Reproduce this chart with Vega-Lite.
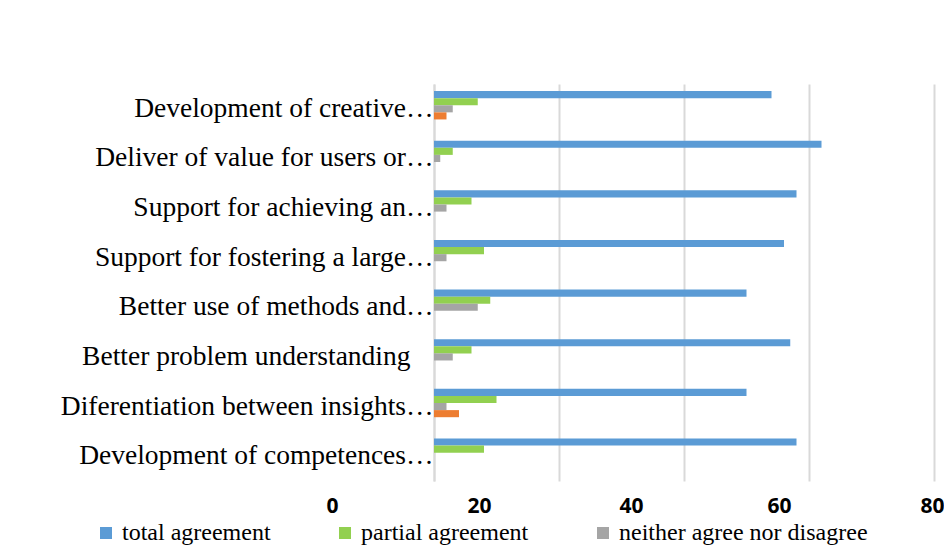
{
  "$schema": "https://vega.github.io/schema/vega-lite/v6.json",
  "width": 500,
  "height": 397,
  "autosize": "none",
  "padding": {"left": 434, "top": 84, "right": 10, "bottom": 68},
  "background": "white",
  "config": {"view": {"stroke": null}},
  "data": {
    "values": [
      {"item": "Development of creative…", "series": "total agreement", "value": 54},
      {"item": "Development of creative…", "series": "partial agreement", "value": 7},
      {"item": "Development of creative…", "series": "neither agree nor disagree", "value": 3},
      {"item": "Development of creative…", "series": "partial disagreement", "value": 2},
      {"item": "Development of creative…", "series": "total disagreement", "value": 0},
      {"item": "Deliver of value for users or…", "series": "total agreement", "value": 62},
      {"item": "Deliver of value for users or…", "series": "partial agreement", "value": 3},
      {"item": "Deliver of value for users or…", "series": "neither agree nor disagree", "value": 1},
      {"item": "Deliver of value for users or…", "series": "partial disagreement", "value": 0},
      {"item": "Deliver of value for users or…", "series": "total disagreement", "value": 0},
      {"item": "Support for achieving an…", "series": "total agreement", "value": 58},
      {"item": "Support for achieving an…", "series": "partial agreement", "value": 6},
      {"item": "Support for achieving an…", "series": "neither agree nor disagree", "value": 2},
      {"item": "Support for achieving an…", "series": "partial disagreement", "value": 0},
      {"item": "Support for achieving an…", "series": "total disagreement", "value": 0},
      {"item": "Support for fostering a large…", "series": "total agreement", "value": 56},
      {"item": "Support for fostering a large…", "series": "partial agreement", "value": 8},
      {"item": "Support for fostering a large…", "series": "neither agree nor disagree", "value": 2},
      {"item": "Support for fostering a large…", "series": "partial disagreement", "value": 0},
      {"item": "Support for fostering a large…", "series": "total disagreement", "value": 0},
      {"item": "Better use of methods and…", "series": "total agreement", "value": 50},
      {"item": "Better use of methods and…", "series": "partial agreement", "value": 9},
      {"item": "Better use of methods and…", "series": "neither agree nor disagree", "value": 7},
      {"item": "Better use of methods and…", "series": "partial disagreement", "value": 0},
      {"item": "Better use of methods and…", "series": "total disagreement", "value": 0},
      {"item": "Better problem understanding", "series": "total agreement", "value": 57},
      {"item": "Better problem understanding", "series": "partial agreement", "value": 6},
      {"item": "Better problem understanding", "series": "neither agree nor disagree", "value": 3},
      {"item": "Better problem understanding", "series": "partial disagreement", "value": 0},
      {"item": "Better problem understanding", "series": "total disagreement", "value": 0},
      {"item": "Diferentiation between insights…", "series": "total agreement", "value": 50},
      {"item": "Diferentiation between insights…", "series": "partial agreement", "value": 10},
      {"item": "Diferentiation between insights…", "series": "neither agree nor disagree", "value": 2},
      {"item": "Diferentiation between insights…", "series": "partial disagreement", "value": 4},
      {"item": "Diferentiation between insights…", "series": "total disagreement", "value": 0},
      {"item": "Development of competences…", "series": "total agreement", "value": 58},
      {"item": "Development of competences…", "series": "partial agreement", "value": 8},
      {"item": "Development of competences…", "series": "neither agree nor disagree", "value": 0},
      {"item": "Development of competences…", "series": "partial disagreement", "value": 0},
      {"item": "Development of competences…", "series": "total disagreement", "value": 0}
    ]
  },
  "mark": {"type": "bar"},
  "encoding": {
    "y": {
      "field": "item",
      "type": "nominal",
      "sort": null,
      "scale": {"paddingInner": 0, "paddingOuter": 0},
      "axis": {
        "title": null,
        "ticks": false,
        "domain": true,
        "domainColor": "#D9D9D9",
        "domainWidth": 2,
        "labelFont": "Liberation Serif",
        "labelFontSize": 27.5,
        "labelColor": "#000000",
        "labelLimit": 600,
        "labelPadding": {"expr": "datum.value == 'Better problem understanding' ? 24 : 1"}
      }
    },
    "yOffset": {
      "field": "series",
      "type": "nominal",
      "sort": ["total agreement", "partial agreement", "neither agree nor disagree", "partial disagreement", "total disagreement"],
      "scale": {"paddingInner": 0, "paddingOuter": 1.04}
    },
    "x": {
      "field": "value",
      "type": "quantitative",
      "scale": {"domain": [0, 80], "nice": false},
      "axis": {
        "title": null,
        "values": [0, 20, 40, 60, 80],
        "grid": true,
        "gridColor": "#D9D9D9",
        "gridWidth": 2,
        "domain": false,
        "ticks": false,
        "labelFont": "Open Sans",
        "labelFontWeight": "bold",
        "labelFontSize": 21,
        "labelColor": "#000000",
        "labelPadding": 14,
        "labelFlush": false,
        "labelOverlap": false,
        "labelOffset": {"expr": "datum.value == 0 ? -102 : datum.value == 20 ? -80 : datum.value == 40 ? -53 : datum.value == 60 ? -30 : -2"}
      }
    },
    "color": {
      "field": "series",
      "type": "nominal",
      "scale": {
        "domain": ["total agreement", "partial agreement", "neither agree nor disagree", "partial disagreement", "total disagreement"],
        "range": ["#5B9BD5", "#92D050", "#A5A5A5", "#ED7D31", "#FFC000"]
      },
      "legend": {
        "title": null,
        "orient": "none",
        "legendX": -340,
        "legendY": 437,
        "direction": "horizontal",
        "values": ["total agreement", "partial agreement", "neither agree nor disagree"],
        "symbolType": "square",
        "symbolSize": 144,
        "symbolStrokeWidth": 0,
        "symbolOpacity": 1,
        "labelFont": "Liberation Serif",
        "labelFontSize": 24,
        "labelColor": "#000000",
        "labelOffset": 4,
        "labelLimit": 400,
        "columnPadding": 62
      }
    }
  }
}
